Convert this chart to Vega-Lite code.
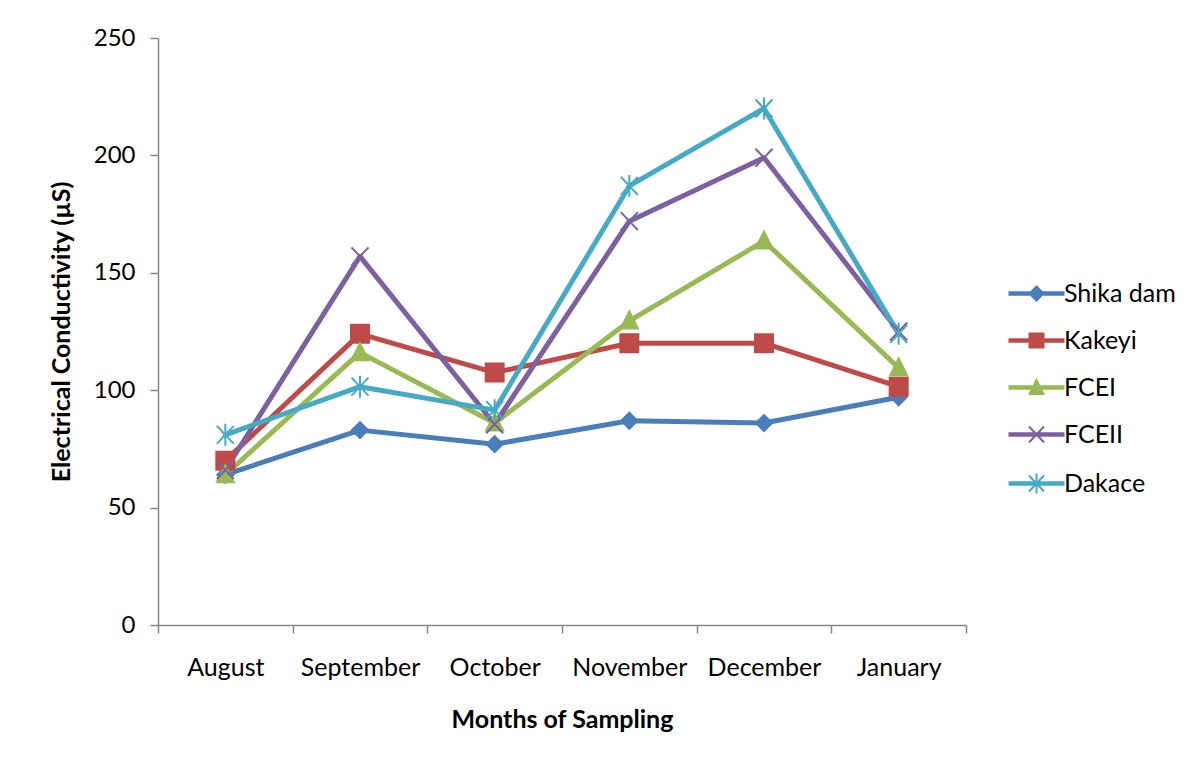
{
  "$schema": "https://vega.github.io/schema/vega-lite/v6.json",
  "autosize": "none",
  "width": 808,
  "height": 587,
  "padding": {"left": 158, "top": 38, "right": 232, "bottom": 139},
  "background": "white",
  "config": {
    "view": {"stroke": null},
    "font": "Lato"
  },
  "datasets": {
    "ec": [
      {"month": "August", "site": "Shika dam", "ec": 64},
      {"month": "September", "site": "Shika dam", "ec": 83},
      {"month": "October", "site": "Shika dam", "ec": 77},
      {"month": "November", "site": "Shika dam", "ec": 87},
      {"month": "December", "site": "Shika dam", "ec": 86},
      {"month": "January", "site": "Shika dam", "ec": 97},
      {"month": "August", "site": "Kakeyi", "ec": 70},
      {"month": "September", "site": "Kakeyi", "ec": 124},
      {"month": "October", "site": "Kakeyi", "ec": 107.5},
      {"month": "November", "site": "Kakeyi", "ec": 120},
      {"month": "December", "site": "Kakeyi", "ec": 120},
      {"month": "January", "site": "Kakeyi", "ec": 101.5},
      {"month": "August", "site": "FCEI", "ec": 64},
      {"month": "September", "site": "FCEI", "ec": 116},
      {"month": "October", "site": "FCEI", "ec": 86},
      {"month": "November", "site": "FCEI", "ec": 129.5},
      {"month": "December", "site": "FCEI", "ec": 163.5},
      {"month": "January", "site": "FCEI", "ec": 109.5},
      {"month": "August", "site": "FCEII", "ec": 66},
      {"month": "September", "site": "FCEII", "ec": 157},
      {"month": "October", "site": "FCEII", "ec": 85.5},
      {"month": "November", "site": "FCEII", "ec": 172},
      {"month": "December", "site": "FCEII", "ec": 199},
      {"month": "January", "site": "FCEII", "ec": 125},
      {"month": "August", "site": "Dakace", "ec": 81},
      {"month": "September", "site": "Dakace", "ec": 101.5},
      {"month": "October", "site": "Dakace", "ec": 91.5},
      {"month": "November", "site": "Dakace", "ec": 187},
      {"month": "December", "site": "Dakace", "ec": 220},
      {"month": "January", "site": "Dakace", "ec": 124}
    ]
  },
  "data": {"name": "ec"},
  "encoding": {
    "x": {
      "field": "month",
      "type": "nominal",
      "sort": ["August", "September", "October", "November", "December", "January"],
      "scale": {"paddingInner": 0, "paddingOuter": 0},
      "axis": {
        "title": "Months of Sampling",
        "labelAngle": 0,
        "tickBand": "extent",
        "domainColor": "#868686",
        "domainWidth": 1.5,
        "tickColor": "#868686",
        "tickWidth": 1.5,
        "tickSize": 8,
        "labelFont": "Lato",
        "labelFontSize": 25,
        "labelColor": "black",
        "labelPadding": 22,
        "titleFont": "Lato",
        "titleFontSize": 25,
        "titleFontWeight": "bold",
        "titleColor": "black",
        "titlePadding": 27
      }
    },
    "y": {
      "field": "ec",
      "type": "quantitative",
      "scale": {"domain": [0, 250], "nice": false},
      "axis": {
        "title": "Electrical Conductivity (µS)",
        "values": [0, 50, 100, 150, 200, 250],
        "grid": false,
        "domainColor": "#868686",
        "domainWidth": 1.5,
        "tickColor": "#868686",
        "tickWidth": 1.5,
        "tickSize": 8,
        "labelFont": "Lato",
        "labelFontSize": 24,
        "labelColor": "black",
        "labelPadding": 15,
        "titleFont": "Lato",
        "titleFontSize": 25,
        "titleFontWeight": "bold",
        "titleColor": "black",
        "titlePadding": 19
      }
    },
    "color": {
      "field": "site",
      "type": "nominal",
      "scale": {
        "domain": ["Shika dam", "Kakeyi", "FCEI", "FCEII", "Dakace"],
        "range": ["#4a7ebb", "#be4b48", "#98b954", "#7d60a0", "#46aac5"]
      },
      "legend": {
        "title": null,
        "orient": "none",
        "legendX": 866,
        "legendY": 243,
        "padding": 0,
        "symbolSize": 400,
        "labelOffset": 15,
        "rowPadding": 21,
        "labelFont": "Lato",
        "labelFontSize": 25,
        "labelColor": "black",
        "labelBaseline": "middle",
        "encode": {
          "symbols": {
            "update": {
              "shape": {"signal": "datum.value === 'Shika dam' ? 'M-2.7,-0.13H2.7V0.13H-2.7ZM0,-0.7L0.7,0L0,0.7L-0.7,0Z' : datum.value === 'Kakeyi' ? 'M-2.7,-0.13H2.7V0.13H-2.7ZM-0.7,-0.7H0.7V0.7H-0.7Z' : datum.value === 'FCEI' ? 'M-2.7,-0.13H2.7V0.13H-2.7ZM0,-0.75L0.7,0.65H-0.7Z' : datum.value === 'FCEII' ? 'M-2.7,-0.13H2.7V0.13H-2.7ZM-0.75,-0.8L0.75,0.8M-0.75,0.8L0.75,-0.8' : 'M-2.7,-0.13H2.7V0.13H-2.7ZM-0.75,-0.8L0.75,0.8M-0.75,0.8L0.75,-0.8M0,-1L0,1'"},
              "size": {"value": 400},
              "fill": {"scale": "color", "field": "value"},
              "stroke": {"scale": "color", "field": "value"},
              "strokeWidth": {"value": 2},
              "opacity": {"value": 1},
              "fillOpacity": {"value": 1}
            }
          }
        }
      }
    }
  },
  "layer": [
    {
      "mark": {"type": "line", "strokeWidth": 5, "strokeJoin": "round", "strokeCap": "round"}
    },
    {
      "transform": [{"filter": "datum.site === 'Shika dam'"}],
      "mark": {"type": "point", "filled": true, "opacity": 1, "size": 400, "strokeWidth": 2, "stroke": "#4a7ebb",
               "shape": "M0,-0.8L0.8,0L0,0.8L-0.8,0Z"}
    },
    {
      "transform": [{"filter": "datum.site === 'Kakeyi'"}],
      "mark": {"type": "point", "filled": true, "opacity": 1, "size": 400, "strokeWidth": 2, "stroke": "#be4b48",
               "shape": "M-0.9,-0.9H0.9V0.9H-0.9Z"}
    },
    {
      "transform": [{"filter": "datum.site === 'FCEI'"}],
      "mark": {"type": "point", "filled": true, "opacity": 1, "size": 400, "strokeWidth": 2, "stroke": "#98b954",
               "shape": "M0,-0.95L0.85,0.75H-0.85Z"}
    },
    {
      "transform": [{"filter": "datum.site === 'FCEII'"}],
      "mark": {"type": "point", "filled": true, "opacity": 1, "size": 400, "strokeWidth": 2, "stroke": "#7d60a0",
               "shape": "M-0.85,-0.9L0.85,0.9M-0.85,0.9L0.85,-0.9"}
    },
    {
      "transform": [{"filter": "datum.site === 'Dakace'"}],
      "mark": {"type": "point", "filled": true, "opacity": 1, "size": 400, "strokeWidth": 2, "stroke": "#46aac5",
               "shape": "M-0.85,-0.9L0.85,0.9M-0.85,0.9L0.85,-0.9M0,-1.1L0,1.1"}
    }
  ]
}
